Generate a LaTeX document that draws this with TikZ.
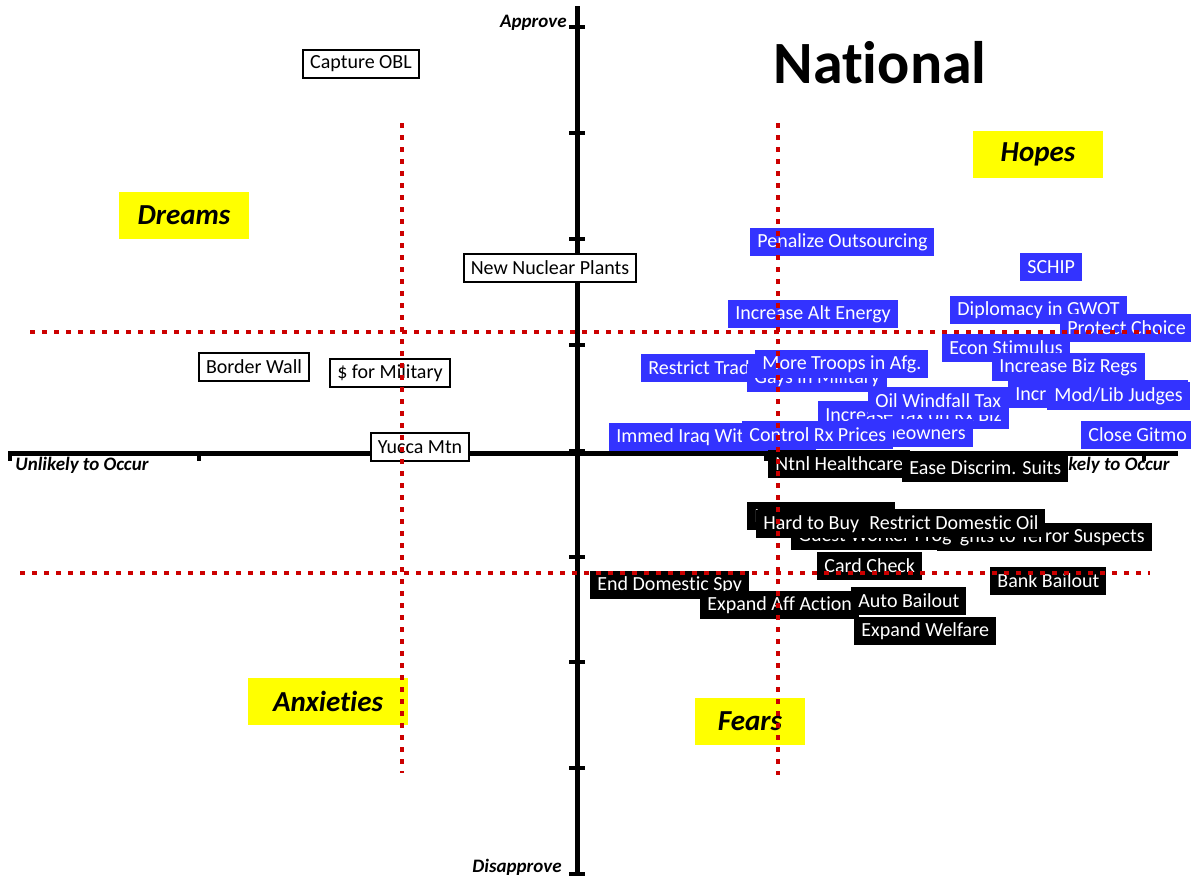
\documentclass[tikz,border=0pt]{standalone}
\usepackage{fontspec}
\setmainfont{Carlito}[Ligatures=NoCommon]
\definecolor{appblue}{RGB}{51,51,255}
\definecolor{divred}{RGB}{204,0,0}
\definecolor{zoneyellow}{RGB}{255,255,0}
\begin{document}
\begin{tikzpicture}[x=0.5pt,y=-0.5pt,
		lbl/.style={inner xsep=3.5pt,inner ysep=0pt,minimum height=14pt,anchor=west,
			font=\fontsize{10}{12}\selectfont},
		bluebox/.style={lbl,fill=appblue,text=white},
		blackbox/.style={lbl,fill=black,text=white},
		whitebox/.style={lbl,anchor=center,fill=white,draw=black,line width=1.2pt},
		zone/.style={fill=zoneyellow,minimum width=65pt,minimum height=23.5pt,
			font=\fontsize{14.5}{16}\selectfont\bfseries\itshape},
		axlabel/.style={inner sep=0pt,font=\fontsize{9.5}{11}\selectfont\bfseries\itshape},
		divider/.style={draw=divred,line width=2pt,dash pattern=on 2.5pt off 3.5pt}]
	\useasboundingbox (0,0) rectangle (1191,878);
	% axes
	\draw[line width=2.5pt] (577,6) -- (577,874);
	\draw[line width=2.5pt] (8,453) -- (1178,453);
	\foreach \k in {0,...,8}
		\draw[line width=2pt] (569,{27+105.9*\k}) -- (585,{27+105.9*\k});
	\foreach \k in {0,...,6}
		\draw[line width=2pt] ({10+189*\k},453) -- ({10+189*\k},461);
	\node[axlabel,anchor=east] (approve) at (567,23) {Approve};
	\node[axlabel,anchor=east] (disapprove) at (562,867) {Disapprove};
	\node[axlabel,anchor=west] (unlikely) at (15,465) {Unlikely to Occur};
	\node[axlabel,anchor=east] (likely) at (1170,465) {Likely to Occur};
	% title and zones
	\node[font=\fontsize{30}{34}\selectfont\bfseries] (title) at (880,63) {National};
	\node[zone] (hopes) at (1038,154) {Hopes};
	\node[zone] (dreams) at (184,215) {Dreams};
	\node[zone,minimum width=80pt] (anxieties) at (328,701) {Anxieties};
	\node[zone,minimum width=55pt] (fears) at (750,721) {Fears};
	% unlikely side
	\node[whitebox] (obl) at (361,64) {Capture OBL};
	\node[whitebox] (nuclear) at (550,268) {New Nuclear Plants};
	\node[whitebox] (wall) at (254,367) {Border Wall};
	\node[whitebox] (military) at (390,373) {\$ for Military};
	\node[whitebox] (yucca) at (420,447) {Yucca Mtn};
	% approve, likely
	\node[bluebox] (outsourcing) at (750,242) {Penalize Outsourcing};
	\node[bluebox] (schip) at (1020,267) {SCHIP};
	\node[bluebox] (altenergy) at (728,314) {Increase Alt Energy};
	\node[bluebox] (diplomacy) at (950,310) {Diplomacy in GWOT};
	\node[bluebox] (choice) at (1060,328) {Protect Choice};
	\node[bluebox] (stimulus) at (942,348) {Econ Stimulus};
	\node[bluebox] (bizregs) at (992,367) {Increase Biz Regs};
	\node[bluebox,text width=83pt,align=left] (incr) at (1008,394) {Incr};
	\node[bluebox] (judges) at (1047,396) {Mod/Lib Judges};
	\node[bluebox] (trade) at (641,368) {Restrict Trade};
	\node[bluebox] (gays) at (747,378) {Gays in Military};
	\node[bluebox] (troops) at (755,364) {More Troops in Afg.};
	\node[bluebox] (rxbiz) at (818,415) {Increase Tax on Rx Biz};
	\node[bluebox] (windfall) at (868,401) {Oil Windfall Tax};
	\node[bluebox,anchor=east] (homeowners) at (973,433) {Homeowners};
	\node[bluebox] (iraq) at (609,437) {Immed Iraq Withdrawal};
	\node[bluebox] (rxprices) at (742,435) {Control Rx Prices};
	\node[bluebox] (gitmo) at (1081,435) {Close Gitmo};
	% disapprove, likely
	\node[blackbox] (healthcare) at (768,464) {Ntnl Healthcare};
	\node[blackbox] (discrim) at (902,468) {Ease Discrim. Suits};
	\node[blackbox,text width=67pt,align=left] (ibox) at (747,516) {I};
	\node[blackbox] (rights) at (937,537) {Rights to Terror Suspects};
	\node[blackbox] (guest) at (791,536) {Guest Worker Prog};
	\node[blackbox] (guns) at (756,524) {Hard to Buy Guns};
	\node[blackbox] (domoil) at (862,523) {Restrict Domestic Oil};
	\node[blackbox] (cardcheck) at (817,566) {Card Check};
	\node[blackbox] (bankbailout) at (990,581) {Bank Bailout};
	\node[blackbox] (domspy) at (590,585) {End Domestic Spy};
	\node[blackbox] (affaction) at (700,605) {Expand Aff Action};
	\node[blackbox] (autobailout) at (851,601) {Auto Bailout};
	\node[blackbox] (welfare) at (854,631) {Expand Welfare};
	% quadrant dividers
	\draw[divider] (402,123) -- (402,773);
	\draw[divider] (778,123) -- (778,775);
	\draw[divider] (30,332) -- (1160,332);
	\draw[divider] (20,573) -- (1150,573);
\end{tikzpicture}
\end{document}
